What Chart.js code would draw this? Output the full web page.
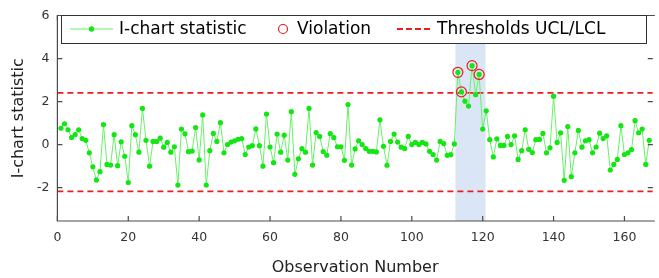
<!DOCTYPE html>
<html>
<head>
<meta charset="utf-8">
<script src="https://cdn.jsdelivr.net/npm/chart.js@4"></script>
<style>
  html, body { margin: 0; padding: 0; background: #fff; }
  #wrap { width: 659px; height: 278px; }
</style>
</head>
<body>
<div id="wrap"><canvas id="ichart" width="659" height="278"></canvas></div>
<script>
const istat = [
  0.76, 0.97, 0.69, 0.33, 0.46, 0.69, 0.28, 0.20, -0.38, -1.03,
  -1.65, -1.26, 0.93, -0.92, -0.95, 0.46, -0.98, 0.13, -0.54, -1.76,
  0.88, 0.46, -0.35, 1.68, 0.20, -1.00, 0.15, 0.14, 0.30, -0.12,
  0.10, -0.35, -0.10, -1.88, 0.72, 0.50, -0.33, -0.30, 0.79, -0.71,
  1.38, -1.88, -0.28, 0.52, 0.15, 1.02, -0.38, 0.00, 0.12, 0.18,
  0.25, 0.28, -0.46, -0.11, -0.05, 0.73, -0.05, -1.00, 1.42, -0.11,
  -0.84, 0.49, -0.35, 0.44, -0.72, 1.53, -1.38, -0.66, -0.19, -0.35,
  1.68, -0.95, 0.56, 0.38, -0.32, -0.49, 0.51, 0.32, -0.10, -0.10,
  -0.73, 1.86, -0.95, -0.20, 0.18, 0.00, -0.18, -0.31, -0.31, -0.34,
  1.15, -0.08, -0.96, 0.15, 0.49, 0.12, -0.12, -0.18, 0.38, 0.00,
  0.10, 0.00, 0.10, 0.03, -0.31, -0.46, -0.72, 0.15, 0.05, -0.50,
  -0.47, 0.03, 3.36, 2.45, 2.02, 1.79, 3.67, 2.32, 3.26, 0.72,
  1.57, 0.23, -0.57, 0.27, -0.04, -0.04, 0.38, 0.00, 0.41, -0.69,
  -0.28, 0.69, -0.22, -0.37, 0.23, 0.24, 0.52, -0.38, -0.15, 2.25,
  0.10, 0.55, -1.66, 0.84, -1.49, -0.38, 0.66, -0.12, 0.18, 0.23,
  -0.38, -0.11, 0.53, 0.28, 0.41, -1.18, -0.92, -0.69, 0.88, -0.46,
  -0.38, -0.23, 1.11, 0.55, 0.72, -0.92, 0.20
];

// Observations hors limites
const violations = [113, 114, 117, 119];

// Seuils
const ucl = 2.40;
const lcl = -2.17;

// Zone surlignée (fenêtre de détection)
const zoneDebut = 112.3;
const zoneFin = 120.8;

// Graduations
const xTicks = [0, 20, 40, 60, 80, 100, 120, 140, 160];
const yTicks = [-2, 0, 2, 4, 6];
const xMin = 0, xMax = 168;
const yMin = -3.55, yMax = 6;

const police = '"DejaVu Sans", "Liberation Sans", sans-serif';
const vert = '#66f266';
const vertPoint = '#14e614';
const rouge = '#ee1c1c';
const cadreCouleur = '#4a4a4a';

// Plugin : zone bleue, cadre avec graduations internes et légende
const cadrePlugin = {
  id: 'cadre',
  beforeDatasetsDraw(chart) {
    const { ctx, chartArea, scales } = chart;
    const x1 = scales.x.getPixelForValue(zoneDebut);
    const x2 = scales.x.getPixelForValue(zoneFin);
    ctx.save();
    ctx.fillStyle = '#dae6f6';
    ctx.fillRect(x1, chartArea.top, x2 - x1, chartArea.bottom - chartArea.top);
    ctx.restore();
  },
  afterDraw(chart) {
    const { ctx, chartArea, scales } = chart;
    const { left, right, top, bottom } = chartArea;
    ctx.save();
    ctx.strokeStyle = cadreCouleur;
    ctx.lineWidth = 1.2;
    // cadre : gauche, haut, bas (le bord droit sort de l'image)
    ctx.beginPath();
    ctx.moveTo(right + 2, top); ctx.lineTo(left, top);
    ctx.lineTo(left, bottom); ctx.lineTo(right + 2, bottom);
    ctx.stroke();

    // graduations vers l'intérieur
    const tl = 5;
    ctx.beginPath();
    xTicks.forEach(v => {
      const px = scales.x.getPixelForValue(v);
      ctx.moveTo(px, bottom); ctx.lineTo(px, bottom - tl);
      ctx.moveTo(px, top); ctx.lineTo(px, top + tl);
    });
    yTicks.forEach(v => {
      const py = scales.y.getPixelForValue(v);
      ctx.moveTo(left, py); ctx.lineTo(left + tl, py);
      ctx.moveTo(right, py); ctx.lineTo(right - tl, py);
    });
    ctx.stroke();

    // légende
    const lx = 61, ly = 15, lw = 585, lh = 28;
    const cy = ly + lh / 2;
    ctx.fillStyle = '#fff';
    ctx.fillRect(lx, ly, lw, lh);
    ctx.lineWidth = 1;
    ctx.strokeStyle = '#333';
    ctx.strokeRect(lx + 0.5, ly + 0.5, lw, lh);

    ctx.font = '17px ' + police;
    ctx.textBaseline = 'middle';

    // I-chart statistic
    ctx.strokeStyle = vert;
    ctx.lineWidth = 1.2;
    ctx.beginPath(); ctx.moveTo(70, cy); ctx.lineTo(113, cy); ctx.stroke();
    ctx.fillStyle = vertPoint;
    ctx.beginPath(); ctx.arc(91.5, cy, 2.7, 0, Math.PI * 2); ctx.fill();
    ctx.fillStyle = '#000';
    ctx.fillText('I-chart statistic', 119, cy + 1);

    // Violation
    ctx.strokeStyle = rouge;
    ctx.lineWidth = 1.2;
    ctx.beginPath(); ctx.arc(283, cy, 4.5, 0, Math.PI * 2); ctx.stroke();
    ctx.fillText('Violation', 297, cy + 1);

    // Thresholds
    ctx.lineWidth = 2;
    ctx.setLineDash([6, 3]);
    ctx.beginPath(); ctx.moveTo(397, cy); ctx.lineTo(433, cy); ctx.stroke();
    ctx.setLineDash([]);
    ctx.fillText('Thresholds UCL/LCL', 437, cy + 1);
    ctx.restore();
  }
};

const ctx = document.getElementById('ichart').getContext('2d');

new Chart(ctx, {
  type: 'line',
  data: {
    datasets: [
      {
        label: 'Thresholds UCL/LCL',
        data: [{ x: xMin, y: ucl }, { x: xMax, y: ucl }],
        borderColor: rouge,
        borderWidth: 1.8,
        borderDash: [6, 4],
        pointRadius: 0,
        order: 3
      },
      {
        label: 'LCL',
        data: [{ x: xMin, y: lcl }, { x: xMax, y: lcl }],
        borderColor: rouge,
        borderWidth: 1.8,
        borderDash: [6, 4],
        pointRadius: 0,
        order: 3
      },
      {
        label: 'I-chart statistic',
        data: istat.map((v, i) => ({ x: i + 1, y: v })),
        borderColor: vert,
        borderWidth: 1,
        pointRadius: 2.6,
        pointBackgroundColor: vertPoint,
        pointBorderWidth: 0,
        tension: 0,
        order: 2
      },
      {
        label: 'Violation',
        data: violations.map(k => ({ x: k, y: istat[k - 1] })),
        showLine: false,
        pointRadius: 5,
        pointBorderColor: rouge,
        pointBorderWidth: 1.2,
        pointBackgroundColor: 'rgba(0,0,0,0)',
        order: 1
      }
    ]
  },
  options: {
    responsive: false,
    animation: false,
    devicePixelRatio: 1,
    layout: { padding: { top: 12.7, right: 0.5, left: 0, bottom: 0 } },
    plugins: {
      legend: { display: false },
      tooltip: { enabled: false }
    },
    scales: {
      x: {
        type: 'linear',
        min: xMin,
        max: xMax,
        afterBuildTicks: s => { s.ticks = xTicks.map(v => ({ value: v })); },
        afterFit: s => { s.height = 57; },
        grid: { display: false, drawTicks: false },
        border: { display: false },
        ticks: {
          padding: 9,
          color: '#333',
          font: { family: police, size: 12.5 },
          maxRotation: 0
        },
        title: {
          display: true,
          text: 'Observation Number',
          color: '#222',
          font: { family: police, size: 16 },
          padding: { top: 0, bottom: 1 }
        }
      },
      y: {
        min: yMin,
        max: yMax,
        afterBuildTicks: s => { s.ticks = yTicks.map(v => ({ value: v })); },
        afterFit: s => { s.width = 57.4; },
        grid: { display: false, drawTicks: false },
        border: { display: false },
        ticks: {
          padding: 8,
          color: '#333',
          font: { family: police, size: 12.5 }
        },
        title: {
          display: true,
          text: 'I-chart statistic',
          color: '#222',
          font: { family: police, size: 16 },
          padding: { top: 9, bottom: 0 }
        }
      }
    }
  },
  plugins: [cadrePlugin]
});
</script>
</body>
</html>
